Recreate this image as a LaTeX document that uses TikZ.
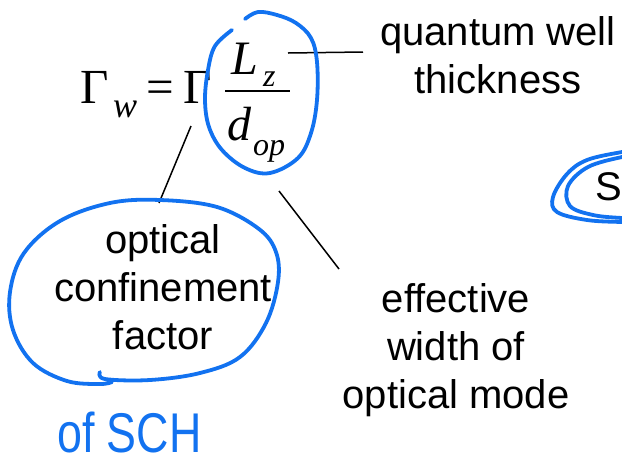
\documentclass[tikz,border=0pt]{standalone}
\usepackage{fontspec}
\setmainfont{Liberation Sans}
\newfontfamily\serifmath{Liberation Serif}
\definecolor{penblue}{RGB}{18, 114, 240}
\usetikzlibrary{positioning}

\tikzset{
  labeltext/.style={align=center, inner sep=0pt, anchor=north, font=\fontsize{40}{48}\selectfont},
  mathsym/.style={inner sep=0pt, anchor=base west, font=\serifmath\fontsize{49}{49}\selectfont},
  mathvar/.style={mathsym, font=\serifmath\itshape\fontsize{48}{48}\selectfont},
  mathsub/.style={inner sep=0pt, anchor=base west, font=\serifmath\itshape\fontsize{32}{32}\selectfont},
  leader/.style={line width=1.5pt},
  pen/.style={draw=penblue, line width=3.8pt, line cap=round, line join=round},
  handtext/.style={inner sep=0pt, anchor=base west, text=penblue, font=\fontsize{56}{56}\selectfont}
}

\begin{document}
\begin{tikzpicture}[x=1pt, y=-1pt]
    \useasboundingbox (0,0) rectangle (622,467);
    \begin{scope}
        \clip (0,0) rectangle (622,467);

        % formula
        \node[mathsym] (gw) at (80,103) {Γ};
        \node[mathsub, font=\serifmath\itshape\fontsize{36}{36}\selectfont] (w) at (113,117) {w};
        \node[mathsym] (eq) at (146,103) {=};
        \node[mathsym] (g) at (183,103) {Γ};
        \node[mathvar] (lz) at (231,74) {L};
        \node[mathsub] (z) at (263,86) {z};
        \node[mathvar] (dop) at (227,140) {d};
        \node[mathsub] (op) at (253,155) {op};
        \draw[line width=1.5pt] (225,91) -- (290,91);

        % labels
        \node[labeltext] (qw) at (498,16) {quantum well\\thickness};
        \node[labeltext] (ocf) at (163,224) {optical\\confinement\\factor};
        \node[labeltext] (eff) at (456,283) {effective\\width of\\optical mode};
        \node[labeltext, anchor=base west] (sch) at (595,200) {S};

        % leaders
        \coordinate (lz-tip) at (288,53);
        \coordinate (qw-tip) at (363,52);
        \coordinate (g-tip) at (191,126);
        \coordinate (ocf-tip) at (159,203);
        \coordinate (dop-tip) at (279,191);
        \coordinate (eff-tip) at (339,269);
        \draw[leader] (lz-tip) -- (qw-tip);
        \draw[leader] (g-tip) -- (ocf-tip);
        \draw[leader] (dop-tip) -- (eff-tip);

        % ink
        \draw[pen] plot[smooth, tension=0.6] coordinates {(245,19) (258,12) (277,15) (296,23) (311,38) (317,62) (317,100) (311,133) (298,158) (270,173) (245,168) (222,150) (209,127) (205,100) (208,70) (215,46) (232,30)};
        \draw[pen] plot[smooth, tension=0.6] coordinates {(100,372) (105,379) (150,380) (200,373) (240,357) (266,323) (278,282) (276,252) (259,229) (217,207) (160,200) (110,203) (60,221) (24,253) (10,292) (13,330) (33,363) (67,381) (100,384) (112,382)};
        \draw[pen] plot[smooth, tension=0.6] coordinates {(640,150) (622,152) (587,160) (567,174) (553,197) (557,212) (587,220) (622,222) (640,222)};
        \draw[pen] plot[smooth, tension=0.6] coordinates {(640,155) (622,157) (588,167) (568,186) (570,206) (593,215) (622,218) (640,218)};
        \node[handtext] (ofsch) at (57,452) {\scalebox{0.8}[1]{of SCH}};
    \end{scope}
\end{tikzpicture}
\end{document}
